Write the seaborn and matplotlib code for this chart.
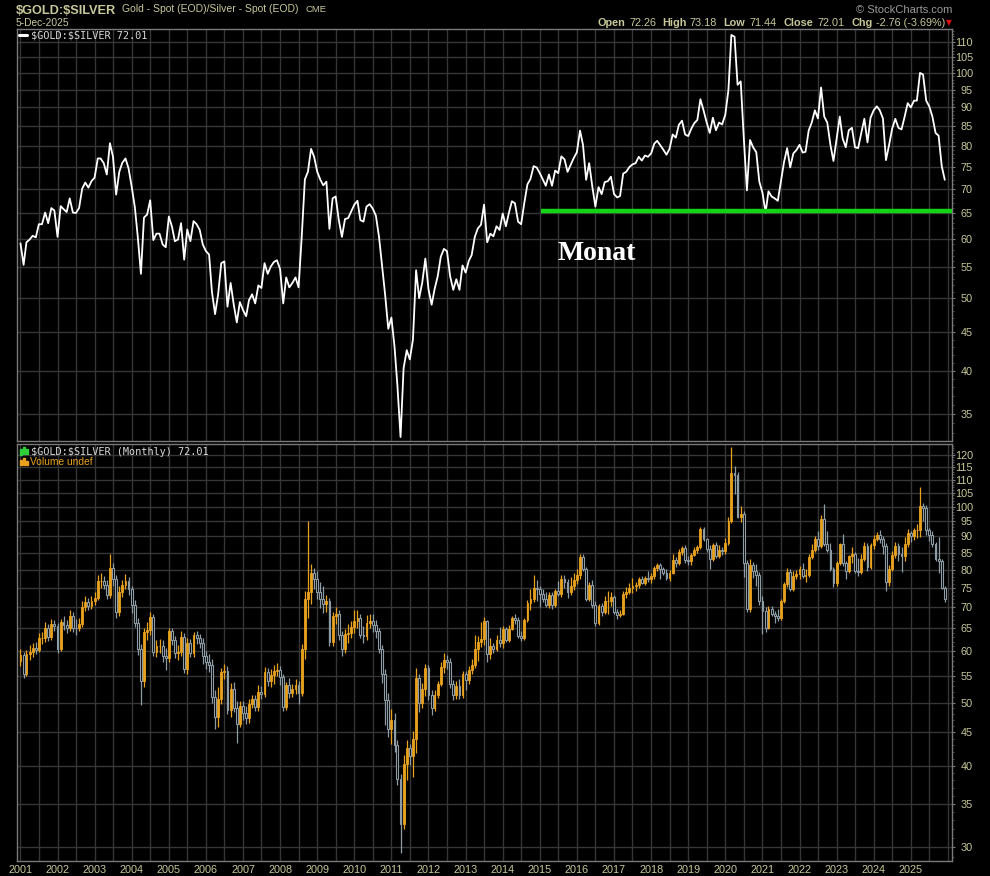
import numpy as np
import pandas as pd
import matplotlib
matplotlib.use('Agg')
import matplotlib.pyplot as plt
import matplotlib.dates as mdates
import matplotlib.ticker as mticker
from matplotlib.patches import Rectangle
from matplotlib.lines import Line2D
import seaborn as sns

# Gold/Silver ratio, monthly closes (one list per year, Jan..Dec)
close_2001 = [59.2, 55.4, 59.4, 59.9, 60.6, 60.3, 62.8, 62.8, 65.1, 63.0, 66.0, 65.5]
close_2002 = [60.4, 66.4, 65.8, 65.2, 68.0, 65.1, 65.0, 66.0, 70.1, 71.4, 70.3, 71.7]
close_2003 = [72.5, 76.9, 76.9, 75.8, 73.2, 80.6, 77.3, 68.8, 73.8, 75.9, 76.9, 74.6]
close_2004 = [70.5, 66.2, 60.4, 53.9, 64.1, 64.7, 67.6, 59.8, 61.0, 61.0, 59.0, 58.5]
close_2005 = [64.3, 62.3, 59.6, 59.9, 63.0, 56.3, 61.8, 59.6, 63.4, 62.8, 61.7, 59.0]
close_2006 = [57.8, 57.2, 51.0, 47.6, 50.6, 55.7, 56.0, 48.7, 52.4, 49.1, 46.4, 49.4]
close_2007 = [48.2, 47.3, 49.7, 50.6, 49.2, 52.0, 51.6, 55.7, 53.9, 55.1, 55.9, 56.2]
close_2008 = [54.7, 49.2, 53.3, 51.7, 52.4, 53.3, 51.7, 60.4, 72.1, 73.8, 79.2, 77.3]
close_2009 = [73.8, 72.0, 70.8, 71.6, 61.9, 68.0, 68.4, 63.6, 60.4, 63.8, 64.0, 65.3]
close_2010 = [66.7, 67.5, 63.6, 63.3, 66.3, 66.8, 65.9, 64.5, 60.4, 55.3, 50.4, 45.5]
close_2011 = [47.1, 43.0, 38.2, 32.6, 40.3, 42.6, 41.4, 44.0, 54.5, 50.0, 52.5, 56.5]
close_2012 = [51.4, 49.0, 51.4, 53.5, 56.8, 58.2, 57.8, 53.5, 51.3, 53.0, 51.3, 55.3]
close_2013 = [54.1, 56.1, 57.1, 60.4, 62.0, 62.7, 66.7, 59.4, 61.0, 60.5, 62.4, 61.7]
close_2014 = [64.9, 62.4, 64.9, 67.4, 67.0, 63.3, 62.8, 67.0, 71.0, 72.2, 75.1, 74.8]
close_2015 = [73.5, 72.0, 70.7, 73.2, 70.7, 74.1, 73.5, 77.4, 76.7, 73.8, 75.4, 77.0]
close_2016 = [78.4, 83.8, 80.2, 72.0, 75.8, 70.5, 66.3, 70.4, 68.9, 71.5, 71.7, 72.7]
close_2017 = [68.9, 68.2, 68.5, 73.4, 73.8, 74.9, 75.5, 75.8, 77.3, 76.4, 77.6, 77.3]
close_2018 = [78.1, 80.5, 81.2, 80.1, 79.0, 77.8, 79.2, 82.8, 82.0, 85.3, 86.4, 82.8]
close_2019 = [82.4, 84.3, 85.7, 86.6, 92.3, 89.2, 86.0, 83.2, 87.2, 83.9, 85.9, 85.4]
close_2020 = [88.0, 95.0, 112.5, 111.9, 96.5, 97.5, 82.0, 69.7, 81.4, 79.6, 78.4, 71.6]
close_2021 = [69.2, 65.1, 69.5, 68.4, 68.0, 67.5, 71.6, 76.0, 79.4, 74.8, 78.1, 78.9]
close_2022 = [80.2, 78.3, 78.5, 83.8, 85.9, 89.2, 87.0, 95.7, 87.5, 85.9, 80.2, 76.3]
close_2023 = [81.8, 87.5, 81.8, 79.6, 83.9, 84.5, 79.6, 79.4, 83.2, 86.9, 80.8, 87.2]
close_2024 = [89.2, 90.3, 89.2, 87.0, 76.5, 80.2, 84.3, 86.9, 84.5, 84.1, 87.5, 91.2]
close_2025 = [90.0, 91.9, 91.9, 100.1, 99.6, 91.9, 90.3, 87.5, 83.2, 82.5, 75.1, 72.01]

# monthly highs
high_2001 = [60.5, 59.8, 60.2, 61.3, 61.8, 61.9, 63.9, 64.1, 66.4, 66.0, 67.3, 67.0]
high_2002 = [66.3, 67.2, 67.8, 67.0, 69.3, 68.9, 67.2, 67.4, 71.5, 73.0, 72.5, 73.0]
high_2003 = [74.0, 78.5, 79.2, 78.3, 77.0, 84.5, 82.0, 78.5, 75.5, 77.2, 78.8, 78.0]
high_2004 = [75.4, 71.8, 67.5, 61.5, 65.2, 66.4, 68.8, 68.3, 62.5, 62.6, 62.3, 60.6]
high_2005 = [65.0, 65.2, 63.3, 61.2, 64.4, 64.0, 62.9, 62.6, 64.2, 64.4, 63.8, 62.8]
high_2006 = [60.0, 59.3, 58.4, 52.3, 52.8, 56.6, 57.3, 57.0, 53.6, 53.8, 50.3, 50.3]
high_2007 = [50.3, 49.4, 50.6, 51.4, 51.4, 53.3, 53.0, 56.8, 56.5, 56.3, 57.2, 57.6]
high_2008 = [57.0, 55.3, 53.8, 54.5, 53.5, 54.4, 54.0, 61.5, 74.2, 95.0, 81.5, 80.4]
high_2009 = [79.5, 76.6, 75.4, 73.2, 72.4, 68.9, 70.2, 69.3, 64.5, 64.9, 66.1, 66.8]
high_2010 = [69.3, 69.4, 68.3, 65.5, 68.1, 68.4, 68.5, 66.9, 65.2, 61.2, 56.4, 51.8]
high_2011 = [48.9, 48.2, 43.8, 38.8, 41.6, 43.8, 43.2, 45.2, 56.5, 55.4, 53.6, 57.4]
high_2012 = [57.2, 52.3, 52.2, 54.0, 57.8, 59.6, 59.2, 58.6, 54.2, 54.0, 54.4, 56.0]
high_2013 = [55.9, 56.9, 58.3, 63.5, 63.3, 66.5, 67.6, 67.0, 62.8, 61.8, 63.6, 65.3]
high_2014 = [65.6, 65.4, 65.8, 68.0, 68.4, 67.6, 64.4, 67.5, 71.8, 74.6, 78.5, 77.0]
high_2015 = [75.6, 74.8, 74.0, 73.8, 74.0, 74.7, 76.8, 78.6, 78.5, 77.4, 77.9, 79.0]
high_2016 = [80.2, 84.5, 84.6, 80.8, 76.7, 77.1, 71.6, 70.9, 71.2, 72.8, 74.3, 74.0]
high_2017 = [73.2, 69.7, 69.4, 74.3, 75.3, 76.2, 77.8, 76.6, 77.9, 78.2, 78.3, 79.6]
high_2018 = [79.2, 80.9, 81.8, 81.8, 80.7, 80.3, 80.0, 84.6, 83.6, 86.2, 86.9, 87.2]
high_2019 = [84.1, 84.9, 86.8, 87.3, 93.0, 93.1, 89.6, 87.2, 88.0, 88.3, 87.3, 86.8]
high_2020 = [89.4, 96.3, 123.5, 115.2, 112.8, 100.2, 98.4, 82.8, 83.0, 82.2, 81.6, 79.3]
high_2021 = [72.8, 70.0, 70.3, 70.4, 69.2, 69.6, 72.1, 76.6, 80.6, 80.2, 79.5, 80.0]
high_2022 = [81.0, 81.9, 80.3, 84.5, 87.7, 90.1, 91.7, 96.9, 100.9, 91.8, 88.0, 80.8]
high_2023 = [82.5, 88.0, 90.8, 82.5, 84.4, 86.7, 85.2, 83.4, 84.5, 88.3, 87.8, 87.9]
high_2024 = [90.4, 91.5, 92.2, 90.1, 87.8, 81.2, 85.6, 88.3, 88.0, 86.8, 89.7, 92.4]
high_2025 = [91.6, 92.8, 94.0, 107.0, 101.2, 100.4, 92.7, 91.8, 88.3, 89.9, 83.2, 75.6]

# monthly lows
low_2001 = [56.9, 54.6, 55.0, 58.2, 58.8, 59.4, 59.9, 61.5, 61.9, 62.2, 62.4, 64.3]
low_2002 = [59.6, 60.0, 64.6, 63.9, 64.4, 64.2, 63.6, 64.3, 65.3, 69.2, 69.4, 69.5]
low_2003 = [70.6, 71.8, 75.0, 74.6, 72.2, 72.5, 75.5, 67.4, 68.0, 72.6, 74.8, 73.2]
low_2004 = [68.6, 65.3, 59.1, 49.5, 52.8, 62.5, 63.6, 59.0, 58.8, 59.5, 57.8, 56.2]
low_2005 = [57.8, 61.4, 58.6, 58.2, 58.9, 55.6, 55.4, 58.8, 58.8, 61.6, 60.6, 57.4]
low_2006 = [56.4, 55.8, 50.0, 45.5, 45.8, 49.8, 54.3, 48.0, 47.5, 48.4, 43.3, 45.9]
low_2007 = [47.0, 46.4, 46.5, 49.0, 48.5, 48.6, 50.7, 51.0, 53.0, 52.8, 53.4, 55.0]
low_2008 = [53.2, 48.6, 48.8, 50.9, 51.0, 51.6, 49.8, 51.2, 58.3, 67.5, 70.8, 74.8]
low_2009 = [72.0, 69.8, 68.6, 68.9, 61.0, 61.0, 66.0, 62.5, 59.0, 59.5, 61.8, 62.9]
low_2010 = [63.9, 65.2, 62.9, 61.7, 62.5, 65.0, 64.2, 62.8, 59.5, 53.6, 46.2, 44.3]
low_2011 = [43.2, 42.0, 37.4, 29.4, 32.0, 38.0, 40.1, 38.5, 41.8, 48.3, 49.1, 51.2]
low_2012 = [50.5, 47.8, 48.5, 50.8, 53.0, 55.5, 56.4, 52.6, 50.4, 50.6, 50.6, 50.9]
low_2013 = [52.2, 53.4, 55.4, 56.6, 58.0, 60.8, 61.3, 57.8, 58.4, 59.6, 60.0, 60.8]
low_2014 = [60.6, 61.9, 62.0, 64.6, 66.1, 62.8, 62.2, 62.3, 66.5, 69.4, 71.3, 71.6]
low_2015 = [70.1, 71.4, 70.2, 69.8, 69.6, 70.0, 72.8, 72.6, 75.1, 72.4, 73.2, 74.4]
low_2016 = [76.1, 77.5, 79.6, 71.5, 71.7, 69.8, 65.6, 65.9, 67.9, 68.4, 68.5, 70.4]
low_2017 = [68.3, 67.2, 67.6, 68.1, 72.3, 73.3, 73.6, 74.2, 74.9, 76.0, 75.8, 76.6]
low_2018 = [76.4, 77.5, 79.7, 77.3, 78.4, 77.1, 76.9, 78.7, 80.8, 81.2, 84.2, 81.8]
low_2019 = [81.4, 81.3, 83.9, 85.0, 86.2, 88.5, 85.2, 80.3, 82.6, 83.4, 83.4, 84.2]
low_2020 = [84.6, 87.2, 94.2, 104.5, 96.0, 94.8, 78.0, 68.8, 69.0, 77.6, 75.4, 70.7]
low_2021 = [63.8, 64.2, 64.9, 67.8, 66.3, 66.7, 67.0, 71.0, 75.2, 74.1, 74.2, 77.3]
low_2022 = [77.4, 77.8, 76.6, 78.0, 83.0, 85.2, 85.7, 86.4, 86.9, 85.2, 79.5, 75.3]
low_2023 = [75.5, 81.2, 81.0, 77.5, 79.1, 81.8, 79.1, 78.2, 78.8, 82.6, 79.7, 80.1]
low_2024 = [86.2, 88.4, 87.8, 84.6, 74.3, 75.4, 79.5, 83.3, 82.6, 79.4, 82.6, 86.8]
low_2025 = [88.3, 88.9, 89.5, 89.8, 95.0, 90.5, 88.4, 86.6, 82.4, 79.2, 74.6, 71.4]

first_open = 58.0
years = range(2001, 2026)
closes = sum([globals()[f'close_{y}'] for y in years], [])
highs = sum([globals()[f'high_{y}'] for y in years], [])
lows = sum([globals()[f'low_{y}'] for y in years], [])

support_level = 65.5
support_start = '2015-01-10'

top_ticks = [35, 40, 45, 50, 55, 60, 65, 70, 75, 80, 85, 90, 95, 100, 105, 110]
bot_ticks = [30, 35, 40, 45, 50, 55, 60, 65, 70, 75, 80, 85, 90, 95, 100, 105, 110, 115, 120]

df = pd.DataFrame({
    'date': pd.date_range('2001-01-01', periods=len(closes), freq='MS'),
    'close': closes, 'high': highs, 'low': lows})
df['open'] = [first_open] + closes[:-1]

# colours
KHAKI = '#C8C89A'
GRID = '#363636'
SPINE = '#7A7A7A'
ORANGE = '#E9A21E'
GREY = '#8E9CA6'
GREEN = '#14D214'

sns.set_style('dark', {'axes.facecolor': 'black', 'figure.facecolor': 'black',
                       'grid.color': GRID, 'axes.edgecolor': SPINE})
plt.rcParams['font.family'] = ['Liberation Sans', 'DejaVu Sans']

W, H = 990, 876
fig = plt.figure(figsize=(W / 100, H / 100), dpi=100, facecolor='black')

def fx(x):
    return x / W

def fy(y):
    return 1 - y / H

L, R = 16.7, 952
ax_top = fig.add_axes([fx(L), fy(441), fx(R) - fx(L), fy(29) - fy(441)])
ax_bot = fig.add_axes([fx(L), fy(860.7), fx(R) - fx(L), fy(444.3) - fy(860.7)])

# top panel: close line + support
sns.lineplot(data=df, x='date', y='close', ax=ax_top, color='white', linewidth=1.3,
             legend=False, zorder=3)
x_left, x_right = pd.Timestamp('2000-11-25'), pd.Timestamp('2026-02-10')
ax_top.hlines(support_level, pd.Timestamp(support_start), x_right, color=GREEN,
              linewidth=3.2, zorder=4)

# bottom panel: candles
up = (df.close >= df.open).values
body_lo = df[['open', 'close']].min(axis=1)
body_hi = df[['open', 'close']].max(axis=1)
ax_bot.vlines(df.date, df.low, df.high, colors=np.where(up, ORANGE, GREY),
              linewidth=0.9, zorder=2)
ax_bot.bar(df.date[up], (body_hi - body_lo)[up], bottom=body_lo[up], width=18,
           color=ORANGE, edgecolor=ORANGE, linewidth=0.6, zorder=3)
ax_bot.bar(df.date[~up], (body_hi - body_lo)[~up], bottom=body_lo[~up], width=18,
           facecolor='black', edgecolor=GREY, linewidth=0.8, zorder=3)


def year_label(v, p):
    d = mdates.num2date(v)
    return d.strftime('%Y') if d.month == 1 and d.year <= 2025 else ''


for ax, ticks, lim in ((ax_top, top_ticks, (32.2, 114.6)), (ax_bot, bot_ticks, (28.6, 124.6))):
    ax.set_facecolor('black')
    ax.set_yscale('log')
    ax.set_ylim(*lim)
    ax.set_xlim(x_left, x_right)
    ax.set_xlabel('')
    ax.set_ylabel('')
    ax.yaxis.set_major_locator(mticker.FixedLocator(ticks))
    ax.yaxis.set_major_formatter(mticker.FixedFormatter([str(t) for t in ticks]))
    ax.yaxis.set_minor_locator(mticker.FixedLocator(np.arange(28, 126)))
    ax.yaxis.set_minor_formatter(mticker.NullFormatter())
    ax.xaxis.set_major_locator(mdates.MonthLocator(bymonth=[1, 7]))
    ax.xaxis.set_minor_locator(mdates.MonthLocator())
    ax.xaxis.set_major_formatter(mticker.FuncFormatter(year_label))
    ax.grid(True, which='major', color=GRID, linewidth=1.0)
    ax.grid(False, which='minor')
    ax.yaxis.tick_right()
    ax.tick_params(axis='y', which='major', length=2.5, width=0.8, color=SPINE,
                   labelsize=7.8, labelcolor=KHAKI, pad=12.6, right=True, left=False)
    ax.tick_params(axis='y', which='minor', length=1.5, width=0.6, color='#5a5a5a',
                   right=True, left=False)
    for t in ax.yaxis.get_major_ticks():
        t.label2.set_horizontalalignment('right')
    for s in ax.spines.values():
        s.set_color(SPINE)
        s.set_linewidth(1.0)

ax_top.tick_params(axis='x', which='both', length=0, labelbottom=False)
ax_bot.tick_params(axis='x', which='major', length=2, color='#8a8a70', labelsize=7.8,
                   labelcolor=KHAKI, pad=1.2)
ax_bot.tick_params(axis='x', which='minor', length=1.5, color='#8a8a70')

# header texts
fig.text(fx(16), fy(13.5), '$GOLD:$SILVER', fontsize=9.2, fontweight='bold',
         color=KHAKI, va='baseline', parse_math=False)
fig.text(fx(122), fy(12.5), 'Gold - Spot (EOD)/Silver - Spot (EOD)', fontsize=7.5,
         color=KHAKI, va='baseline')
fig.text(fx(306), fy(12.5), 'CME', fontsize=6.8, color=KHAKI, va='baseline')
fig.text(fx(16), fy(25.5), '5-Dec-2025', fontsize=7.4, color=KHAKI, va='baseline')
fig.text(fx(952), fy(13), '\u00a9 StockCharts.com', fontsize=8, color='#9A9A9A',
         va='baseline', ha='right')

ohlc = [(597.7, 'Open', True), (630, '72.26', False), (662, 'High', True),
        (689.5, '73.18', False), (723, 'Low', True), (750, '71.44', False),
        (783, 'Close', True), (818, '72.01', False), (851, 'Chg', True),
        (876, '-2.76 (-3.69%)', False)]
for x, s, bold in ohlc:
    fig.text(fx(x), fy(26), s, fontsize=7.8, color=KHAKI, va='baseline',
             fontweight='bold' if bold else 'normal')
fig.text(fx(946), fy(25), '\u25bc', fontsize=5.5, color='#E01010', va='baseline',
         family='DejaVu Sans')

# top panel legend
fig.add_artist(Line2D([fx(19), fx(27)], [fy(34.5), fy(34.5)], color='white', lw=2.2))
fig.text(fx(31.5), fy(38.5), '$GOLD:$SILVER 72.01', fontsize=7.4, color='#D8D8D8',
         va='baseline', family='DejaVu Sans Mono', parse_math=False)

# bottom panel legend
for x0, y0, h in ((19.5, 448.5, 6), (22.5, 447, 7), (25.5, 449, 5)):
    fig.add_artist(Rectangle((fx(x0), fy(y0 + h)), 2 / W, h / H, color='#2FCF3A',
                             transform=fig.transFigure))
fig.text(fx(31.5), fy(455), '$GOLD:$SILVER (Monthly) 72.01', fontsize=7.4,
         color='#D8D8D8', va='baseline', family='DejaVu Sans Mono', parse_math=False)
for x0, h in ((19.5, 5), (22.5, 7), (25.5, 4)):
    fig.add_artist(Rectangle((fx(x0), fy(465)), 2 / W, h / H, color=ORANGE,
                             transform=fig.transFigure))
fig.text(fx(30), fy(465), 'Volume undef', fontsize=7.4, color=ORANGE, va='baseline')

# annotation
fig.text(fx(557), fy(260), 'Monat', fontsize=20, fontweight='bold', color='white',
         family='Liberation Serif', va='baseline')

fig.savefig('out.png', dpi=100, facecolor='black')
